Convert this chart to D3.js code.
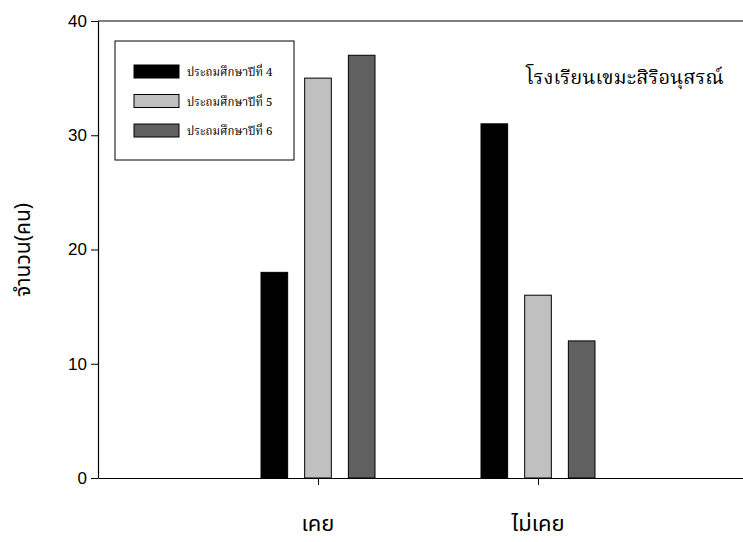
<!DOCTYPE html>
<html>
<head>
<meta charset="utf-8">
<script src="https://cdn.jsdelivr.net/npm/d3@7"></script>
<style>
html,body{margin:0;padding:0;background:#fff;}
svg{display:block;}
</style>
</head>
<body>
<svg id="chart" width="743" height="542"></svg>
<script>
const categories = ["เคย", "ไม่เคย"];
const seriesNames = ["ประถมศึกษาปีที่ 4", "ประถมศึกษาปีที่ 5", "ประถมศึกษาปีที่ 6"];
const grade4 = [18, 31];
const grade5 = [35, 16];
const grade6 = [37, 12];
const yTicks = [0, 10, 20, 30, 40];
const colors = ["#000000", "#c0c0c0", "#606060"];
const title = "โรงเรียนเขมะสิริอนุสรณ์";
const yLabel = "จำนวน(คน)";

const seriesValues = [grade4, grade5, grade6];
const svg = d3.select("#chart");
const thaiSans = "'Noto Sans Thai','Noto Sans','DejaVu Sans',sans-serif";
const thaiSerif = "'Noto Serif Thai','Noto Serif','DejaVu Serif',serif";

const y = d3.scaleLinear().domain([0, 40]).range([478, 21]);
const x = d3.scalePoint().domain(categories).range([98, 758]).padding(1);
const xInner = d3.scaleBand().domain(seriesNames).range([-57, 57]).paddingInner(0.39);

// top frame line
svg.append("line").attr("x1", 98).attr("x2", 760).attr("y1", y(40)).attr("y2", y(40))
  .attr("stroke", "#000").attr("stroke-width", 1.2);

// bars
seriesNames.forEach((s, si) => {
  svg.append("g").selectAll("rect").data(categories).join("rect")
    .attr("x", c => x(c) + xInner(s))
    .attr("width", xInner.bandwidth())
    .attr("y", (c, i) => y(seriesValues[si][i]))
    .attr("height", (c, i) => y(0) - y(seriesValues[si][i]))
    .attr("fill", colors[si])
    .attr("stroke", "#000").attr("stroke-width", 1);
});

// y axis
const yAxis = svg.append("g").attr("transform", "translate(98,0)")
  .call(d3.axisLeft(y).tickValues(yTicks).tickSize(7).tickSizeOuter(0).tickPadding(4));
yAxis.select(".domain").attr("stroke-width", 1.2);
yAxis.selectAll("text").attr("font-family", "'Liberation Sans',Arial,sans-serif").attr("font-size", 17).attr("fill", "#000");

// x axis
const xAxis = svg.append("g").attr("transform", "translate(0,478)")
  .call(d3.axisBottom(x).tickSize(7).tickSizeOuter(0).tickFormat(""));
xAxis.select(".domain").attr("stroke-width", 1.2);

svg.append("g").selectAll("text").data(categories).join("text")
  .attr("x", c => x(c)).attr("y", 531).attr("text-anchor", "middle")
  .attr("font-family", thaiSans).attr("font-size", 22).text(c => c);

// y label
svg.append("text").attr("transform", "translate(24,250) rotate(-90)")
  .attr("text-anchor", "middle").attr("dominant-baseline", "middle")
  .attr("font-family", thaiSans).attr("font-size", 21).text(yLabel);

// title
svg.append("text").attr("x", 526).attr("y", 84)
  .attr("font-family", thaiSerif).attr("font-size", 20).text(title);

// legend
const lg = svg.append("g");
lg.append("rect").attr("x", 115).attr("y", 41).attr("width", 179).attr("height", 119)
  .attr("fill", "#fff").attr("stroke", "#000").attr("stroke-width", 1);
seriesNames.forEach((s, i) => {
  const yy = 65 + i * 29.5;
  lg.append("rect").attr("x", 134).attr("y", yy).attr("width", 45).attr("height", 13)
    .attr("fill", colors[i]).attr("stroke", "#000").attr("stroke-width", 1);
  lg.append("text").attr("x", 187).attr("y", yy + 11)
    .attr("font-family", thaiSerif).attr("font-size", 11.5).text(s);
});
</script>
</body>
</html>
